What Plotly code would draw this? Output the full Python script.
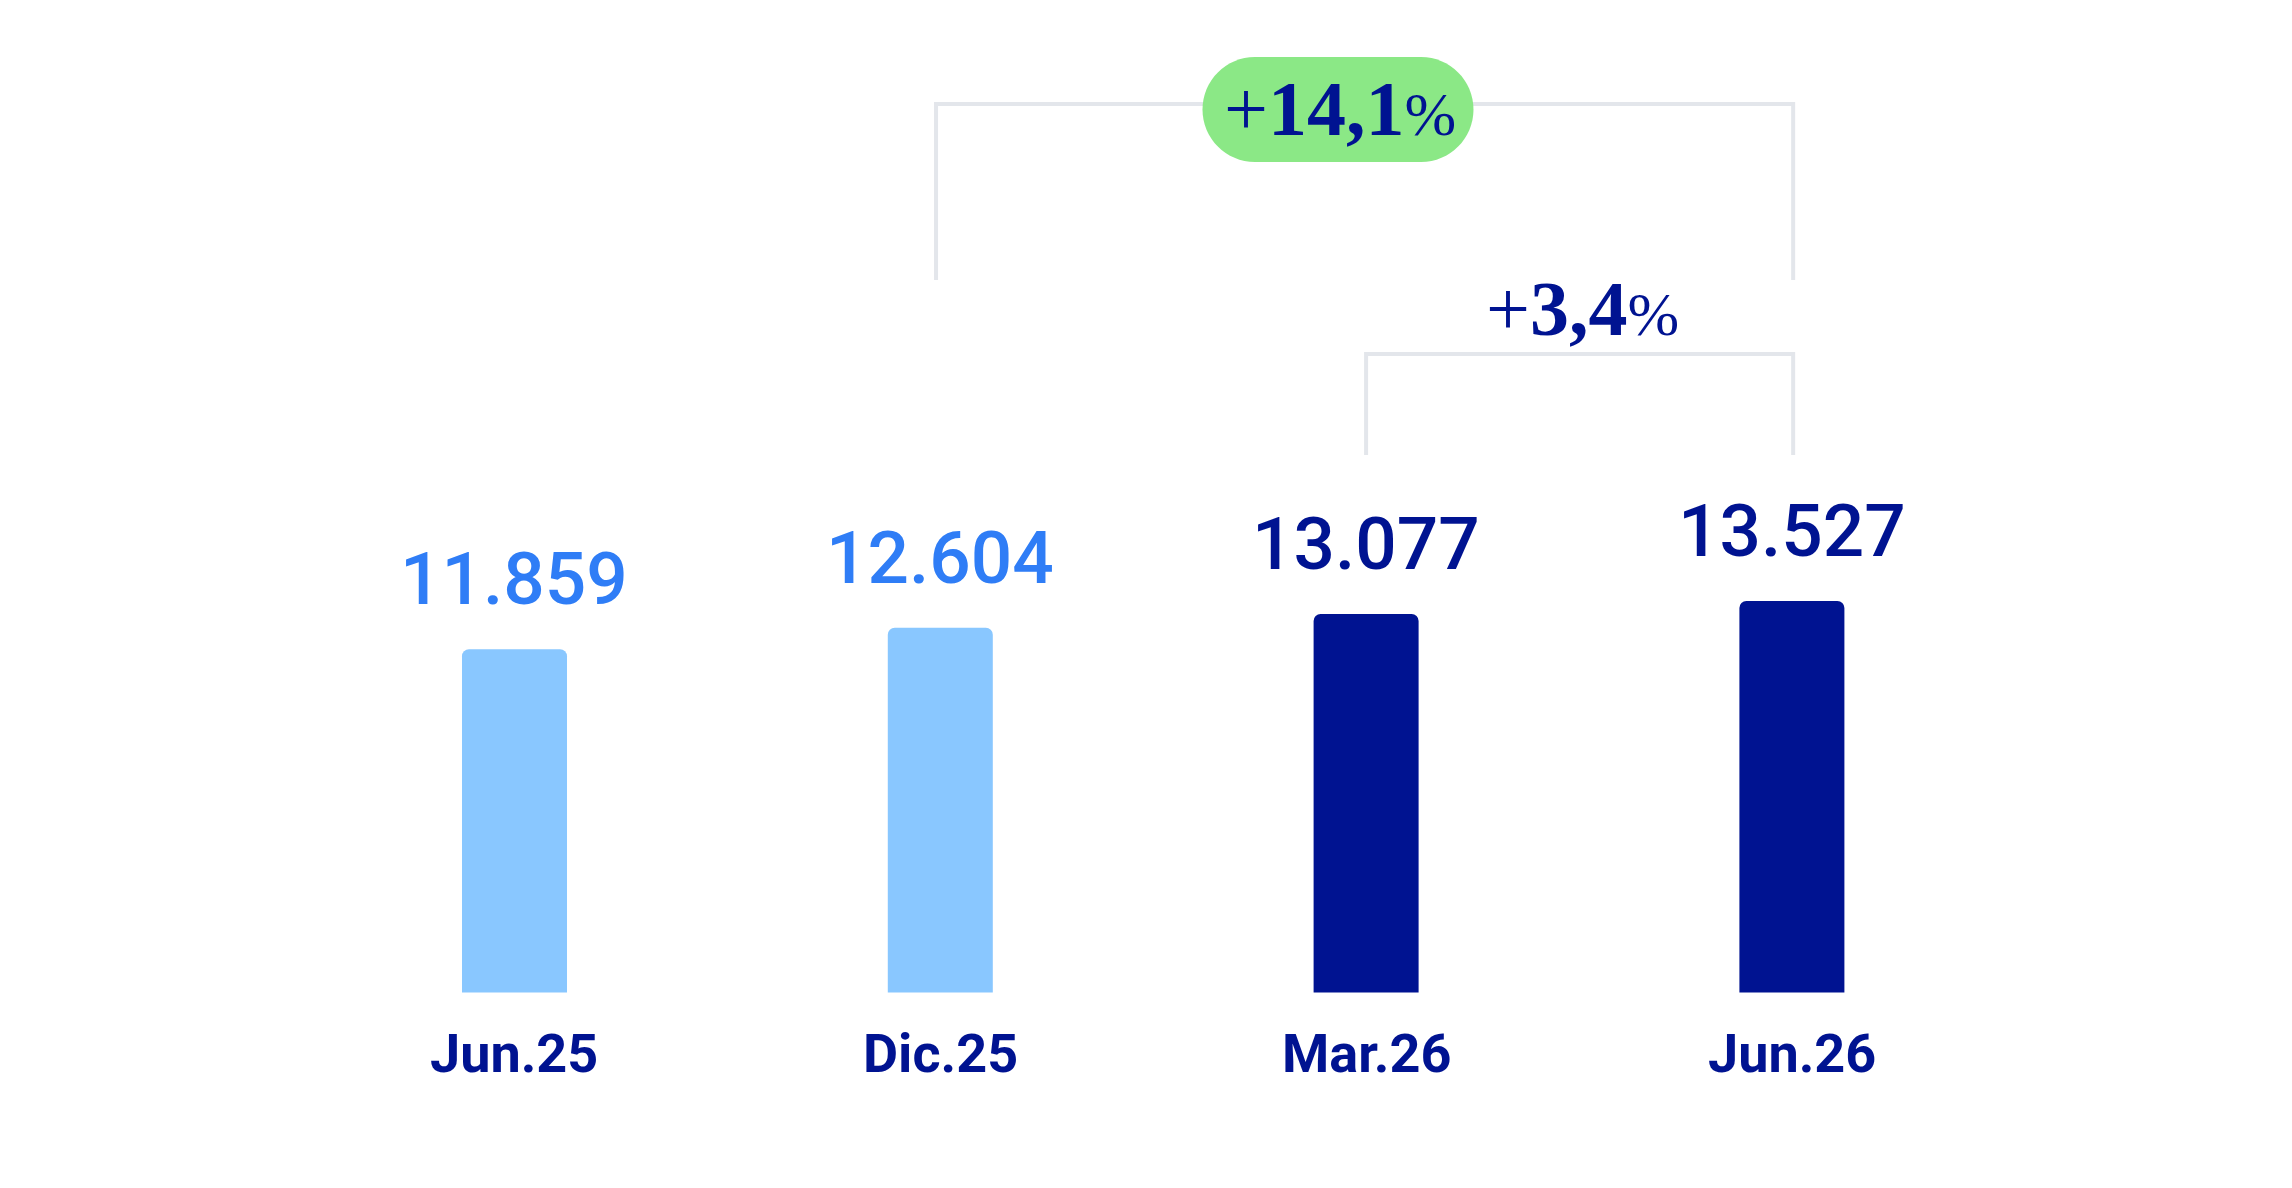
import plotly.graph_objects as go

# ---- data ----
categories = ["Jun.25", "Dic.25", "Mar.26", "Jun.26"]
values = [11859, 12604, 13077, 13527]
value_labels = ["11.859", "12.604", "13.077", "13.527"]
growth_long = "14,1"   # Dic.25 -> Jun.26
growth_short = "3,4"   # Mar.26 -> Jun.26

LIGHT_BAR = "#89C7FF"
DARK_BAR = "#001391"
LIGHT_TXT = "#2F7DF6"
NAVY = "#001391"
GREEN = "#8BE886"
GRAY = "#E3E6EB"

bar_colors = [LIGHT_BAR, LIGHT_BAR, DARK_BAR, DARK_BAR]
label_colors = [LIGHT_TXT, LIGHT_TXT, NAVY, NAVY]

W, H = 2292, 1188
xpos = list(range(len(categories)))

fig = go.Figure()
fig.add_trace(go.Bar(
    x=xpos, y=values, width=[0.2466] * len(values),
    marker=dict(color=bar_colors, line=dict(width=0), cornerradius=7),
    hoverinfo="skip",
))

def py(px):
    return 1 - px / H

ann = []
for i, (v, t, c) in enumerate(zip(values, value_labels, label_colors)):
    ann.append(dict(x=i, y=v, xref="x", yref="y", text=t, showarrow=False,
                    yanchor="middle", yshift=70,
                    font=dict(family="Roboto, sans-serif", size=73, weight=500, color=c)))
for i, cat in enumerate(categories):
    ann.append(dict(x=i, y=0, xref="x", yref="y", text="<b>%s</b>" % cat, showarrow=False,
                    yanchor="middle", yshift=-61,
                    font=dict(family="Roboto, sans-serif", size=54, color=NAVY)))

pct_font = dict(family="Liberation Serif, serif", size=78, color=NAVY)
ann.append(dict(x=1.939, y=py(108), xref="x", yref="paper", showarrow=False, yanchor="middle",
                text="+<b>%s</b><span style='font-size:62px'>%%</span>" % growth_long, font=pct_font))
ann.append(dict(x=2.509, y=py(308), xref="x", yref="paper", showarrow=False, yanchor="middle",
                text="+<b>%s</b><span style='font-size:62px'>%%</span>" % growth_short, font=pct_font))

shapes = []
def bracket(xa, xb, top_px, bot_px):
    return dict(type="path", xref="x", yref="paper",
                path="M %s,%s L %s,%s L %s,%s L %s,%s" % (xa, py(bot_px), xa, py(top_px),
                                                          xb, py(top_px), xb, py(bot_px)),
                line=dict(color=GRAY, width=4), layer="above")
shapes.append(bracket(0.99, 3.003, 104, 280))
shapes.append(bracket(2.0, 3.003, 354, 455))

# pill behind the +14,1% label
hw, r = 135.5, 52.5
cx = hw - r
k = 0.5523 * r
pill = ("M %g,%g L %g,%g C %g,%g %g,%g %g,%g C %g,%g %g,%g %g,%g L %g,%g "
        "C %g,%g %g,%g %g,%g C %g,%g %g,%g %g,%g Z") % (
    -cx, -r, cx, -r,
    cx + k, -r, hw, -k, hw, 0,
    hw, k, cx + k, r, cx, r,
    -cx, r,
    -cx - k, r, -hw, k, -hw, 0,
    -hw, -k, -cx - k, -r, -cx, -r)
shapes.append(dict(type="path", xref="x", yref="paper", xsizemode="pixel", ysizemode="pixel",
                   xanchor=1.934, yanchor=py(109.5), path=pill,
                   fillcolor=GREEN, line=dict(width=0), layer="above"))

s = 0.028949
fig.update_layout(
    width=W, height=H,
    margin=dict(l=0, r=0, t=0, b=0),
    paper_bgcolor="white", plot_bgcolor="white",
    showlegend=False,
    xaxis=dict(range=[-1.2083, 4.1745], visible=False, fixedrange=True),
    yaxis=dict(range=[-(H - 992.5) / s, 992.5 / s], visible=False, fixedrange=True),
    annotations=ann, shapes=shapes,
)
fig.write_html("out.html", config={"displayModeBar": False})
